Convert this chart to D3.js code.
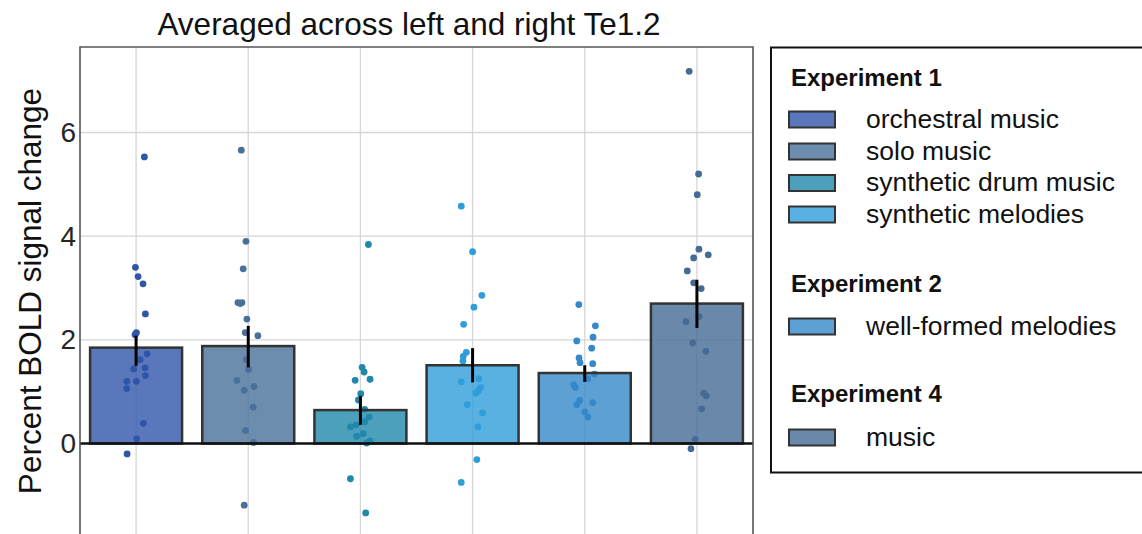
<!DOCTYPE html>
<html>
<head>
<meta charset="utf-8">
<script src="https://cdn.jsdelivr.net/npm/d3@7"></script>
<style>
  body { margin: 0; background: #fff; }
  text { font-family: "Liberation Sans", Arial, sans-serif; }
</style>
</head>
<body>
<div id="chart"></div>
<script>
// categories (one bar each)
const categories = ['orchestral music', 'solo music', 'synthetic drum music',
                    'synthetic melodies', 'well-formed melodies', 'music'];
const experiments = ['Experiment 1', 'Experiment 1', 'Experiment 1', 'Experiment 1',
                     'Experiment 2', 'Experiment 4'];
const meanValues = [1.85, 1.88, 0.645, 1.51, 1.36, 2.70];
const ciLow  = [1.50, 1.47, 0.36, 1.18, 1.19, 2.23];
const ciHigh = [2.08, 2.27, 0.92, 1.84, 1.51, 3.16];
const yTicks = [0, 2, 4, 6];

// single-subject values per category
const subjectValues = [
  [5.53, 3.40, 3.22, 3.08, 2.50, 2.14, 2.10, 1.73, 1.62, 1.44, 1.46, 1.31, 1.20, 1.20, 1.06, 0.39, 0.09, -0.20],
  [5.66, 3.90, 3.37, 2.72, 2.72, 2.70, 2.40, 2.14, 2.08, 1.62, 1.43, 1.22, 1.10, 1.03, 0.70, 0.25, 0.02, -1.19],
  [3.84, 1.47, 1.38, 1.22, 1.24, 0.96, 0.84, 0.66, 0.51, 0.42, 0.36, 0.32, 0.19, 0.14, 0.05, 0.01, -0.68, -1.34],
  [4.58, 3.70, 2.86, 2.63, 2.30, 1.76, 1.68, 1.59, 1.19, 1.25, 1.08, 1.02, 0.97, 0.75, 0.59, 0.32, -0.31, -0.75],
  [2.68, 2.27, 2.05, 1.98, 1.84, 1.65, 1.56, 1.54, 1.34, 1.25, 1.13, 1.08, 0.83, 0.75, 0.79, 0.61, 0.51],
  [7.18, 5.20, 4.80, 3.75, 3.58, 3.64, 3.33, 3.10, 2.99, 2.45, 2.35, 1.94, 1.78, 0.97, 0.92, 0.67, 0.08, -0.10]
];
// strip jitter, in fractions of one category step
const jitter = [
  [0.074, -0.006, 0.018, 0.062, 0.083, 0.003, -0.009, 0.098, 0.036, -0.021, 0.080, 0.083, -0.083, 0.003, -0.083, 0.065, 0.006, -0.080],
  [-0.062, -0.020, -0.045, -0.092, -0.056, -0.071, -0.012, -0.027, 0.086, -0.018, 0.003, -0.101, 0.051, -0.036, 0.045, -0.024, 0.047, -0.036],
  [0.071, 0.015, 0.033, -0.047, 0.086, 0.003, -0.018, 0.038, 0.078, 0.038, -0.038, -0.089, 0.024, -0.033, 0.086, 0.056, -0.089, 0.047],
  [-0.101, 0, 0.083, 0.012, -0.080, -0.056, -0.083, -0.086, -0.101, 0.056, 0.071, 0.051, 0.029, -0.047, 0.089, 0.047, 0.038, -0.101],
  [-0.053, 0.095, 0.074, -0.071, 0.062, -0.051, -0.042, 0.071, 0.086, 0.027, -0.098, -0.083, -0.045, -0.071, 0.071, 0, 0.029],
  [-0.069, 0.015, 0.003, 0.018, -0.029, 0.101, -0.086, -0.029, 0.038, 0.020, -0.098, -0.038, 0.080, 0.060, 0.083, 0.042, -0.015, -0.053]
];
const colors = ['#2f55a9', '#48709a', '#2088ab', '#2f9dd9', '#3588c9', '#456b95'];

const W = 1142, H = 534;
const margin = { top: 47, left: 80, right: 389 };

const svg = d3.select('#chart')
  .append('svg')
    .attr('width', W)
    .attr('height', H);

const x = d3.scaleBand()
  .domain(d3.range(categories.length))
  .range([margin.left, W - margin.right])
  .paddingInner(0.18)
  .paddingOuter(0.09);

const y = d3.scaleLinear()
  .domain([-1.9, 7.65])
  .range([542, margin.top]);

const step = x.step();
const cx = i => x(i) + x.bandwidth() / 2;

// grid
svg.append('g')
  .selectAll('line')
  .data(yTicks.concat([-2]))
  .join('line')
    .attr('x1', margin.left).attr('x2', W - margin.right)
    .attr('y1', d => y(d)).attr('y2', d => y(d))
    .attr('stroke', '#d6d6d6').attr('stroke-width', 1.3);
svg.append('g')
  .selectAll('line')
  .data(d3.range(categories.length))
  .join('line')
    .attr('x1', d => cx(d)).attr('x2', d => cx(d))
    .attr('y1', margin.top).attr('y2', H)
    .attr('stroke', '#d6d6d6').attr('stroke-width', 1.3);

// points
const pts = [];
subjectValues.forEach((vals, i) => vals.forEach((v, j) => pts.push({ i, v, j: jitter[i][j] })));
svg.append('g')
  .selectAll('circle')
  .data(pts)
  .join('circle')
    .attr('cx', d => cx(d.i) + d.j * step)
    .attr('cy', d => y(d.v))
    .attr('r', 3.4)
    .attr('fill', d => colors[d.i]);

// bars
svg.append('g')
  .selectAll('rect')
  .data(meanValues)
  .join('rect')
    .attr('x', (d, i) => x(i))
    .attr('y', d => y(d))
    .attr('width', x.bandwidth())
    .attr('height', d => y(0) - y(d))
    .attr('fill', (d, i) => colors[i])
    .attr('fill-opacity', 0.8)
    .attr('stroke', '#333')
    .attr('stroke-width', 2.5);

// zero line
svg.append('line')
  .attr('x1', margin.left).attr('x2', W - margin.right)
  .attr('y1', y(0)).attr('y2', y(0))
  .attr('stroke', '#111').attr('stroke-width', 2.5);

// error bars
svg.append('g')
  .selectAll('line')
  .data(meanValues)
  .join('line')
    .attr('x1', (d, i) => cx(i)).attr('x2', (d, i) => cx(i))
    .attr('y1', (d, i) => y(ciLow[i])).attr('y2', (d, i) => y(ciHigh[i]))
    .attr('stroke', '#000').attr('stroke-width', 3);

// frame
svg.append('path')
  .attr('d', `M${margin.left},${H}V${margin.top}H${W - margin.right}V${H}`)
  .attr('fill', 'none')
  .attr('stroke', '#555')
  .attr('stroke-width', 1.6);

// y axis
svg.append('g')
  .attr('transform', `translate(${margin.left},0)`)
  .call(d3.axisLeft(y).tickValues(yTicks).tickSize(0).tickPadding(4))
  .call(g => g.select('.domain').remove())
  .call(g => g.selectAll('text')
    .attr('font-size', 28)
    .attr('fill', '#262626')
    .style('font-family', '"Liberation Sans", Arial, sans-serif'));

svg.append('text')
  .attr('transform', 'translate(41,291) rotate(-90)')
  .attr('text-anchor', 'middle')
  .attr('font-size', 31.5)
  .attr('fill', '#111')
  .text('Percent BOLD signal change');

svg.append('text')
  .attr('x', 409)
  .attr('y', 35)
  .attr('text-anchor', 'middle')
  .attr('font-size', 31.5)
  .attr('fill', '#111')
  .text('Averaged across left and right Te1.2');

// legend
const legend = svg.append('g');
legend.append('rect')
  .attr('x', 771).attr('y', 47.5)
  .attr('width', 380).attr('height', 425)
  .attr('fill', 'none').attr('stroke', '#111').attr('stroke-width', 2);

const groups = Array.from(new Set(experiments));
const headerY = [85.5, 291.5, 401.5];
const itemY = [[119.5, 151.5, 183, 214.5], [326.5], [437.5]];
groups.forEach((g, gi) => {
  legend.append('text')
    .attr('x', 791).attr('y', headerY[gi])
    .attr('font-size', 24).attr('font-weight', 'bold').attr('fill', '#111')
    .text(g);
  const idx = experiments.map((e, i) => e === g ? i : -1).filter(i => i >= 0);
  idx.forEach((ci, k) => {
    const cy = itemY[gi][k];
    legend.append('rect')
      .attr('x', 789).attr('y', cy - 8)
      .attr('width', 46).attr('height', 16)
      .attr('fill', colors[ci]).attr('fill-opacity', 0.8)
      .attr('stroke', '#333').attr('stroke-width', 2);
    legend.append('text')
      .attr('x', 866).attr('y', cy + 8)
      .attr('font-size', 26.5).attr('fill', '#111')
      .text(categories[ci]);
  });
});
</script>
</body>
</html>
